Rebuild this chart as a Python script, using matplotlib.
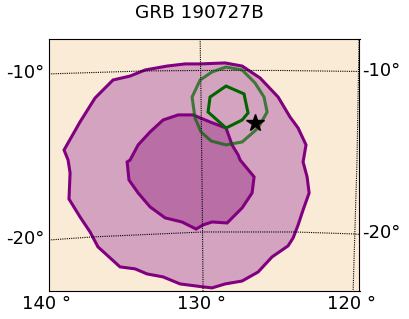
import matplotlib
matplotlib.use("Agg")
import matplotlib.pyplot as plt

# localisation contours, RA / Dec in degrees
outer_ra = [138.84, 137.81, 136.84, 135.68, 134.58, 133.61, 132.19, 131.03, 130.06, 128.45, 127.35,
            126.19, 125.03, 124.26, 123.74, 123.23, 123.42, 123.16, 123.03, 123.42, 123.74, 124.06,
            124.39, 125.42, 126.32, 127.35, 128.45, 129.29, 129.87, 131.35, 132.45, 133.48, 134.26,
            135.23, 135.87, 136.65, 137.16, 137.81, 138.52, 138.45, 138.58]
outer_dec = [-14.88, -13.17, -11.71, -10.61, -10.37, -10.0, -9.76, -9.63, -9.63, -9.57, -9.76,
             -10.49, -11.65, -12.87, -13.54, -14.57, -15.61, -16.52, -17.5, -18.54, -19.45, -20.24,
             -20.73, -21.4, -22.32, -22.87, -23.05, -23.29, -23.23, -23.05, -22.62, -22.44, -22.13,
             -22.01, -21.46, -20.79, -19.88, -18.96, -17.87, -16.28, -15.49]

inner_ra = [134.58, 134.06, 133.29, 132.45, 131.48, 130.52, 129.42, 128.39, 128.0, 127.61, 127.48,
            126.58, 126.71, 127.35, 128.32, 129.29, 129.87, 130.32, 131.23, 132.32, 133.29, 134.06,
            134.65, 134.77]
inner_dec = [-15.49, -14.57, -13.78, -13.05, -12.74, -12.74, -13.17, -13.54, -14.57, -15.18, -15.49,
             -16.52, -17.5, -18.41, -19.33, -19.27, -19.45, -19.7, -19.27, -19.02, -18.35, -17.5,
             -16.71, -15.61]

green90_ra = [128.39, 127.35, 126.52, 125.94, 125.74, 126.32, 127.35, 128.39, 129.35, 130.0,
              130.39, 130.58, 130.06, 129.29]
green90_dec = [-9.82, -10.0, -10.79, -11.65, -12.56, -13.54, -14.39, -14.57, -14.33, -13.78,
               -12.93, -11.65, -10.61, -10.12]

green50_ra = [128.39, 127.23, 126.97, 127.35, 128.39, 129.55, 129.42]
green50_dec = [-10.98, -11.46, -12.62, -13.05, -13.54, -12.56, -11.65]

star_ra = [126.52]
star_dec = [-13.23]

# graticule
dec10_ra = [139.81, 133.74, 130.06, 124.9, 119.81]
dec10_dec = [-10.24, -10.06, -10.03, -10.03, -10.09]
dec20_ra = [139.81, 136.97, 129.87, 123.94, 120.13, 119.81]
dec20_dec = [-20.37, -20.18, -19.88, -19.88, -20.0, -20.03]
ra130_ra = [130.06, 130.0, 129.94, 129.87]
ra130_dec = [-8.11, -11.83, -16.71, -23.48]
ra120_ra = [119.81, 119.94, 120.19]
ra120_dec = [-8.17, -15.49, -23.41]

title = "GRB 190727B"
dec_labels = ["-10°", "-20°"]
ra_labels = ["140 °", "130 °", "120 °"]
ra_label_pos = [140.0, 130.0, 120.3]
dec_left_pos = [-10.2, -20.3]
dec_right_pos = [-10.05, -19.95]

purple = "purple"

fig = plt.figure(figsize=(4.09, 3.19), dpi=100)
ax = fig.add_axes([49 / 409, 28 / 319, 310.5 / 409, 252 / 319])
ax.set_facecolor("antiquewhite")

ax.fill(outer_ra, outer_dec, facecolor="#d4a3bf", edgecolor=purple, lw=2.2, zorder=2)
ax.fill(inner_ra, inner_dec, facecolor="#b96fa6", edgecolor=purple, lw=2.2, zorder=3)

for xs, ys in [(dec10_ra, dec10_dec), (dec20_ra, dec20_dec), (ra130_ra, ra130_dec), (ra120_ra, ra120_dec)]:
    ax.plot(xs, ys, color="black", lw=0.8, ls=(0, (1, 1)), zorder=4)

ax.fill(green90_ra, green90_dec, facecolor="none", edgecolor="darkgreen", alpha=0.7, lw=2.2, zorder=5)
ax.fill(green50_ra, green50_dec, facecolor="none", edgecolor="darkgreen", lw=2.2, zorder=6)
ax.plot(star_ra, star_dec, marker="*", color="black", ms=13, ls="none", zorder=7)

ax.set_xlim(139.81, 119.78)
ax.set_ylim(-23.48, -8.11)
ax.set_xticks([])
ax.set_yticks([])

# labels sit outside the frame like a basemap graticule
for lab, y in zip(dec_labels, dec_left_pos):
    ax.annotate(lab, (0, y), xycoords=("axes fraction", "data"), xytext=(-3, 0),
                textcoords="offset points", ha="right", va="center", fontsize=13)
for lab, y in zip(dec_labels, dec_right_pos):
    ax.annotate(lab, (1, y), xycoords=("axes fraction", "data"), xytext=(2, 0),
                textcoords="offset points", ha="left", va="center", fontsize=13)
for lab, x in zip(ra_labels, ra_label_pos):
    ax.annotate(lab, (x, 0), xycoords=("data", "axes fraction"), xytext=(0, -3),
                textcoords="offset points", ha="center", va="top", fontsize=13)

fig.text(199 / 409, 1 - 13 / 319, title, ha="center", va="center", fontsize=13.3)

fig.savefig("out.png", dpi=100)
